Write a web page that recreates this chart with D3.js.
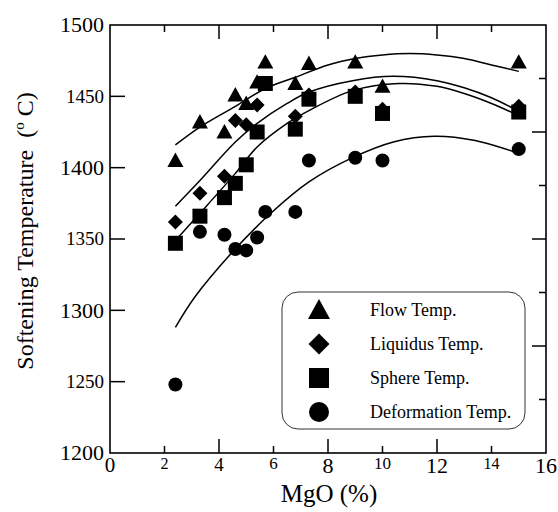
<!DOCTYPE html>
<html><head><meta charset="utf-8">
<script src="https://cdn.jsdelivr.net/npm/d3@7"></script>
</head><body style="margin:0">
<svg id="c" width="558" height="512"></svg>
<script>
// ---------- data ----------
const flowX = [2.4,3.3,4.2,4.6,5.0,5.4,5.7,6.8,7.3,9.0,10.0,15.0];
const flowT = [1405,1432,1425,1451,1445,1460,1474,1459,1473,1474,1457,1474];
const liqX  = [2.4,3.3,4.2,4.6,5.0,5.4,6.8,7.3,9.0,10.0,15.0];
const liqT  = [1362,1382,1394,1433,1430,1444,1436,1451,1453,1441,1443];
const sphX  = [2.4,3.3,4.2,4.6,5.0,5.4,5.7,6.8,7.3,9.0,10.0,15.0];
const sphT  = [1347,1366,1379,1389,1402,1425,1459,1427,1448,1450,1438,1439];
const defX  = [2.4,3.3,4.2,4.6,5.0,5.4,5.7,6.8,7.3,9.0,10.0,15.0];
const defT  = [1248,1355,1353,1343,1342,1351,1369,1369,1405,1407,1405,1413];

// fitted curves
const flowFitX = [2.4,3.3,4.6,5.7,6.75,8,9,10,11,12,13,14,15];
const flowFitT = [1416,1428.5,1443,1455.5,1463,1472,1476.5,1479,1480,1479,1476.5,1472,1467.5];
const liqFitX  = [2.4,3.3,4.6,5.4,6.5,7.3,8.9,10.4,12,13,14,15];
const liqFitT  = [1373,1391,1418,1431,1445,1453,1461,1464,1461,1456,1449,1439.5];
const sphFitX  = [2.4,3.3,4.6,5.4,6.5,7.3,8.9,10.6,12,13,14,15];
const sphFitT  = [1349,1368,1396,1414.5,1431,1440,1454,1459,1457,1452,1445,1436.5];
const defFitX  = [2.4,3.1,4.5,5.9,7.3,8.9,10.4,11.9,13.4,15];
const defFitT  = [1288,1309,1341,1368,1390,1407,1418,1422,1419,1410];

const seriesNames = ["Flow Temp.","Liquidus Temp.","Sphere Temp.","Deformation Temp."];
const xTicks = [0,2,4,6,8,10,12,14,16];
const yTicks = [1200,1250,1300,1350,1400,1450,1500];
const xTitle = "MgO (%)";
const yTitleMain = "Softening Temperature\u00a0\u00a0(";
const yTitleSup = "o";
const yTitleEnd = "\u00a0C)";

// ---------- styling ----------
const FONT = `"Liberation Serif", monospace`;
const xLabelSize = [21,16,19,17,22,17,22,16,22];
const yLabelSize = [22,19,22,19,22,19,22];

const svg = d3.select("#c");
svg.append("rect").attr("width",558).attr("height",512).attr("fill","#fff");

const x = d3.scaleLinear().domain([0,16]).range([110,546]);
const y = d3.scaleLinear().domain([1200,1500]).range([453,25]);
const yr = d3.scaleLinear().domain([0,8]).range([453,25]); // right frame ticks

svg.append("rect").attr("x",x(0)).attr("y",y(1500))
  .attr("width",x(16)-x(0)).attr("height",y(1200)-y(1500))
  .attr("fill","none").attr("stroke","#000").attr("stroke-width",1.6);

const tk = svg.append("g").attr("stroke","#000").attr("stroke-width",1.5);
xTicks.slice(1,-1).forEach(v=>{
  const L = (v%4===0)?14:7;
  tk.append("line").attr("x1",x(v)).attr("x2",x(v)).attr("y1",y(1200)).attr("y2",y(1200)-L);
  tk.append("line").attr("x1",x(v)).attr("x2",x(v)).attr("y1",y(1500)).attr("y2",y(1500)+L);
});
yTicks.slice(1,-1).forEach(v=>{
  tk.append("line").attr("x1",x(0)).attr("x2",x(0)+15).attr("y1",y(v)).attr("y2",y(v));
});
d3.range(1,8).forEach(v=>{
  const L = (v%2===0)?14:7;
  tk.append("line").attr("x1",x(16)).attr("x2",x(16)-L).attr("y1",yr(v)).attr("y2",yr(v));
});

function T(sel){ return sel.append("text").style("font-family",FONT); }

xTicks.forEach((v,i)=>{
  T(svg).attr("x",x(v)).attr("y",458+0.66*xLabelSize[i])
    .attr("text-anchor","middle").attr("font-size",xLabelSize[i]).text(v);
});
yTicks.forEach((v,i)=>{
  T(svg).attr("x",104).attr("y",y(v)).attr("dy","0.34em")
    .attr("text-anchor","end").attr("font-size",yLabelSize[i]).text(v);
});

T(svg).attr("x",329).attr("y",502).attr("text-anchor","middle")
  .attr("font-size",25).text(xTitle);
const yt = T(svg).attr("transform","translate(33,231) rotate(-90)")
  .attr("text-anchor","middle").attr("font-size",24);
yt.append("tspan").text(yTitleMain);
yt.append("tspan").attr("font-size",15).attr("dy",-9).text(yTitleSup);
yt.append("tspan").attr("dy",9).text(yTitleEnd);

const line = d3.line().x(d=>x(d[0])).y(d=>y(d[1])).curve(d3.curveCatmullRom.alpha(0.5));
[[flowFitX,flowFitT],[liqFitX,liqFitT],[sphFitX,sphFitT],[defFitX,defFitT]].forEach(([xs,ts])=>{
  svg.append("path").attr("d",line(xs.map((v,i)=>[v,ts[i]])))
    .attr("fill","none").attr("stroke","#000").attr("stroke-width",1.5);
});

function tri(cx,cy,s){ const h=s*0.9; return `M${cx},${cy-h*0.55}L${cx+s/2},${cy+h*0.45}L${cx-s/2},${cy+h*0.45}Z`; }
function dia(cx,cy,s){ const r=s/2; return `M${cx},${cy-r}L${cx+r},${cy}L${cx},${cy+r}L${cx-r},${cy}Z`; }
function sq(cx,cy,s){ const r=s/2; return `M${cx-r},${cy-r}h${s}v${s}h${-s}Z`; }
function circ(cx,cy,s){ const r=s/2; return `M${cx-r},${cy}a${r},${r} 0 1,0 ${s},0a${r},${r} 0 1,0 ${-s},0Z`; }
const shapes=[tri,dia,sq,circ];
const mg = svg.append("g").attr("fill","#000");
[[flowX,flowT],[liqX,liqT],[sphX,sphT],[defX,defT]].forEach(([xs,ts],k)=>{
  const size=[16,15,15,14][k];
  xs.forEach((v,i)=>{ mg.append("path").attr("d",shapes[k](x(v),y(ts[i]),size)); });
});

const lg = svg.append("g");
lg.append("rect").attr("x",282).attr("y",292).attr("width",243).attr("height",137)
  .attr("rx",16).attr("fill","#fff").attr("stroke","#333").attr("stroke-width",1);
seriesNames.forEach((n,i)=>{
  const cy = 310 + i*34;
  lg.append("path").attr("d",shapes[i](319,cy,[22,21,20,20][i])).attr("fill","#000");
  T(lg).attr("x",370).attr("y",cy+6).attr("font-size",18).text(n);
});
</script>
</body></html>
